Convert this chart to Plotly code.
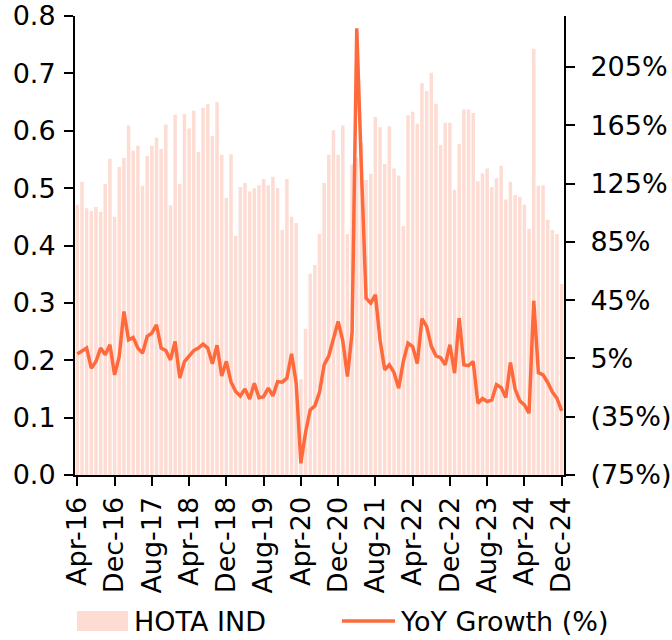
import plotly.graph_objects as go
import pandas as pd

months = pd.date_range("2016-04-01", "2024-12-01", freq="MS").strftime("%b-%y").tolist()

hota = [0.471, 0.511, 0.465, 0.460, 0.467, 0.459, 0.507, 0.551, 0.450, 0.537,
        0.553, 0.609, 0.565, 0.574, 0.504, 0.556, 0.574, 0.588, 0.568, 0.611,
        0.470, 0.628, 0.507, 0.629, 0.604, 0.635, 0.563, 0.640, 0.646, 0.591,
        0.650, 0.558, 0.483, 0.559, 0.417, 0.502, 0.509, 0.494, 0.500, 0.505,
        0.516, 0.505, 0.520, 0.500, 0.427, 0.516, 0.450, 0.439, 0.167, 0.255,
        0.351, 0.366, 0.420, 0.509, 0.558, 0.601, 0.558, 0.609, 0.420, 0.541,
        0.553, 0.580, 0.514, 0.525, 0.624, 0.606, 0.542, 0.608, 0.534, 0.522,
        0.434, 0.627, 0.633, 0.612, 0.683, 0.669, 0.701, 0.647, 0.575, 0.614,
        0.614, 0.497, 0.577, 0.637, 0.637, 0.631, 0.512, 0.526, 0.534, 0.502,
        0.517, 0.539, 0.480, 0.511, 0.488, 0.485, 0.471, 0.429, 0.743, 0.504,
        0.505, 0.445, 0.427, 0.420, 0.333]

yoy = [8.0, 10.4, 12.1, -1.7, 2.9, 12.1, 7.5, 14.4, -6.3, 6.3,
       37.2, 17.8, 19.4, 12.1, 8.6, 20.1, 22.4, 28.1, 12.1, 10.4,
       4.0, 16.6, -8.5, 2.9, 6.3, 10.4, 12.1, 14.8, 12.1, 1.3,
       14.1, -7.0, 3.0, -11.2, -17.7, -20.8, -15.9, -22.8, -12.0, -21.9,
       -21.2, -15.4, -20.7, -10.9, -11.3, -8.5, 8.2, -12.0, -67.0, -45.8,
       -30.3, -27.6, -18.3, 0.6, 6.8, 19.5, 30.4, 17.1, -7.4, 22.9,
       231.5, 135.0, 46.4, 43.0, 48.7, 17.8, -2.8, 0.6, -4.6, -15.4,
       2.9, 15.5, 13.2, 1.5, 32.3, 27.0, 13.5, 6.8, 5.5, 0.6,
       14.4, -5.1, 32.7, 0.6, 0.0, 2.9, -25.7, -22.5, -24.6, -23.5,
       -13.0, -15.0, -21.9, 2.2, -16.0, -24.1, -26.9, -32.6, 44.6, -4.7,
       -6.3, -11.5, -18.0, -22.5, -31.0]

x_tick_labels = ["Apr-16", "Dec-16", "Aug-17", "Apr-18", "Dec-18", "Aug-19", "Apr-20",
                 "Dec-20", "Aug-21", "Apr-22", "Dec-22", "Aug-23", "Apr-24", "Dec-24"]
left_ticks = [0.0, 0.1, 0.2, 0.3, 0.4, 0.5, 0.6, 0.7, 0.8]
right_ticks = [-75, -35, 5, 45, 85, 125, 165, 205]
right_tick_text = ["(75%)", "(35%)", "5%", "45%", "85%", "125%", "165%", "205%"]

FONT = "DejaVu Sans"
TICK_SIZE = 27
LEG_SIZE = 27
BAR_COLOR = "#FDDCD3"
LINE_COLOR = "#FF6A3D"

fig = go.Figure()
fig.add_trace(go.Bar(x=months, y=hota, name="HOTA IND", marker_color=BAR_COLOR,
                     marker_line_width=0, yaxis="y"))
fig.add_trace(go.Scatter(x=months, y=yoy, name="YoY Growth (%)", mode="lines",
                         line=dict(color=LINE_COLOR, width=3.5), yaxis="y2"))

W, H = 672, 640
L, R, T, B = 75, 108, 16, 165

axis_common = dict(ticks="outside", ticklen=9, tickwidth=2, tickcolor="black",
                   showline=True, linecolor="black", linewidth=2,
                   showgrid=False, zeroline=False, automargin=False,
                   tickfont=dict(family=FONT, size=TICK_SIZE, color="black"))

fig.update_layout(
    template="none",
    width=W, height=H,
    margin=dict(l=L, r=R, t=T, b=B, pad=0),
    paper_bgcolor="white", plot_bgcolor="white",
    font=dict(family=FONT, size=TICK_SIZE, color="black"),
    bargap=0.25,
    showlegend=False,
    xaxis=dict(type="category", range=[-0.5, len(months) - 0.5],
               tickvals=x_tick_labels, ticktext=x_tick_labels, tickangle=-90,
               **axis_common),
    yaxis=dict(range=[0, 0.8], tickvals=left_ticks, tickformat=".1f",
               ticklabelstandoff=3, **axis_common),
    yaxis2=dict(range=[-75, 240], overlaying="y", side="right",
                tickvals=right_ticks, ticktext=right_tick_text,
                ticklabelstandoff=10, **axis_common),
)

# legend drawn below the plot
plot_w = W - L - R
plot_h = H - T - B
def px_x(px):
    return (px - L) / plot_w
def px_y(py):
    return (H - B - py) / plot_h

legend_y = 621
fig.add_shape(type="rect", xref="paper", yref="paper",
              x0=px_x(77), x1=px_x(128), y0=px_y(legend_y + 10), y1=px_y(legend_y - 10),
              fillcolor=BAR_COLOR, line_width=0)
fig.add_shape(type="line", xref="paper", yref="paper",
              x0=px_x(342), x1=px_x(395), y0=px_y(legend_y), y1=px_y(legend_y),
              line=dict(color=LINE_COLOR, width=3.5))
fig.add_annotation(text="HOTA IND", xref="paper", yref="paper", x=px_x(132), y=px_y(legend_y),
                   xanchor="left", yanchor="middle", showarrow=False,
                   font=dict(family=FONT, size=LEG_SIZE, color="black"))
fig.add_annotation(text="YoY Growth (%)", xref="paper", yref="paper", x=px_x(398), y=px_y(legend_y),
                   xanchor="left", yanchor="middle", showarrow=False,
                   font=dict(family=FONT, size=LEG_SIZE, color="black"))

fig.write_html("out.html", config={"displayModeBar": False},
               post_script="document.body.style.margin='0px';document.body.style.padding='0px';")
